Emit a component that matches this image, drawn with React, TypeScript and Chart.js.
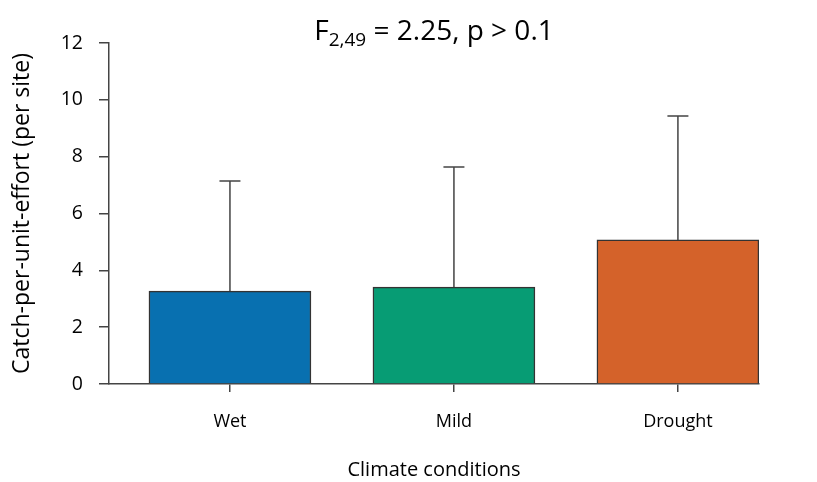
import React, { useEffect, useRef } from "react";
import { Chart, registerables } from "chart.js";

Chart.register(...registerables);

const categories = ["Wet", "Mild", "Drought"];
const means = [3.27, 3.41, 5.07];
const errUpper = [7.14, 7.64, 9.43];
const barColors = ["#0870B0", "#079C74", "#D4622A"];
const yTicks = [0, 2, 4, 6, 8, 10, 12];

const FONT = "'Open Sans', 'Noto Sans', sans-serif";
const AXIS = "#444444";

const errorBarPlugin = {
  id: "errorBars",
  afterDatasetsDraw(chart: any) {
    const ctx = chart.ctx;
    const meta = chart.getDatasetMeta(0);
    const yScale = chart.scales.y;
    ctx.save();
    ctx.strokeStyle = AXIS;
    ctx.lineWidth = 1.5;
    meta.data.forEach((bar: any, i: number) => {
      const x = bar.x;
      const y0 = yScale.getPixelForValue(means[i]);
      const y1 = yScale.getPixelForValue(errUpper[i]);
      ctx.beginPath();
      ctx.moveTo(x, y0);
      ctx.lineTo(x, y1);
      ctx.moveTo(x - 10.5, y1);
      ctx.lineTo(x + 10.5, y1);
      ctx.stroke();
    });
    ctx.restore();
  },
};

const titlePlugin = {
  id: "subTitle",
  afterDraw(chart: any) {
    const ctx = chart.ctx;
    const area = chart.chartArea;
    const big = `28px ${FONT}`;
    const small = `19px ${FONT}`;
    const p1 = "F";
    const p2 = "2,49";
    const p3 = " = 2.25, p > 0.1";
    ctx.save();
    ctx.fillStyle = "#000";
    ctx.textBaseline = "alphabetic";
    ctx.textAlign = "left";
    ctx.font = big;
    const w1 = ctx.measureText(p1).width;
    const w3 = ctx.measureText(p3).width;
    ctx.font = small;
    const w2 = ctx.measureText(p2).width;
    const total = w1 + w2 + w3;
    let x = (area.left + area.right) / 2 - total / 2;
    const base = 40;
    ctx.font = big;
    ctx.fillText(p1, x, base);
    x += w1;
    ctx.font = small;
    ctx.fillText(p2, x, base + 6);
    x += w2;
    ctx.font = big;
    ctx.fillText(p3, x, base);
    ctx.restore();
  },
};

export default function App() {
  const ref = useRef<HTMLCanvasElement>(null);

  useEffect(() => {
    const canvas = ref.current;
    if (!canvas) return;
    const chart = new Chart(canvas, {
      type: "bar",
      data: {
        datasets: [
          {
            data: means.map((m, i) => ({ x: i, y: m })),
            backgroundColor: barColors,
            borderColor: "#333333",
            borderWidth: 1.5,
            barThickness: 162,
          },
        ],
      },
      options: {
        animation: false,
        responsive: false,
        maintainAspectRatio: false,
        layout: { padding: { top: 43, right: 58, left: 0, bottom: 0 } },
        plugins: {
          legend: { display: false },
          tooltip: { enabled: false },
          title: { display: false },
        },
        scales: {
          x: {
            type: "linear",
            min: -0.54,
            max: 2.362,
            offset: false,
            afterBuildTicks: (axis: any) => {
              axis.ticks = categories.map((_, i) => ({ value: i }));
            },
            afterFit: (scale: any) => {
              scale.height = 98;
            },
            border: { display: true, color: AXIS, width: 1.5 },
            grid: {
              offset: false,
              drawOnChartArea: false,
              drawTicks: true,
              tickLength: 8,
              color: AXIS,
              lineWidth: 1.5,
            },
            ticks: {
              autoSkip: false,
              maxRotation: 0,
              padding: 19,
              color: "#000",
              font: { family: FONT, size: 18 },
              callback: (v: any) => categories[v] ?? "",
            },
            title: {
              display: true,
              text: "Climate conditions",
              color: "#000",
              font: { family: FONT, size: 20 },
              padding: { top: 3, bottom: 0 },
            },
          },
          y: {
            min: 0,
            max: 12,
            afterBuildTicks: (axis: any) => {
              axis.ticks = yTicks.map((v) => ({ value: v }));
            },
            afterFit: (scale: any) => {
              scale.width = 109;
            },
            border: { display: true, color: AXIS, width: 1.5 },
            grid: {
              drawOnChartArea: false,
              drawTicks: true,
              tickLength: 10,
              color: AXIS,
              lineWidth: 1.5,
            },
            ticks: {
              padding: 16,
              color: "#000",
              font: { family: FONT, size: 19.5 },
            },
            title: {
              display: true,
              text: "Catch-per-unit-effort (per site)",
              color: "#000",
              font: { family: FONT, size: 23 },
              padding: { top: 9, bottom: 0 },
            },
          },
        },
      },
      plugins: [errorBarPlugin, titlePlugin],
    } as any);
    return () => chart.destroy();
  }, []);

  return (
    <div style={{ position: "fixed", left: 0, top: 0, width: 817, height: 482, background: "#fff" }}>
      <canvas ref={ref} width={817} height={482} style={{ width: 817, height: 482, display: "block" }} />
    </div>
  );
}
